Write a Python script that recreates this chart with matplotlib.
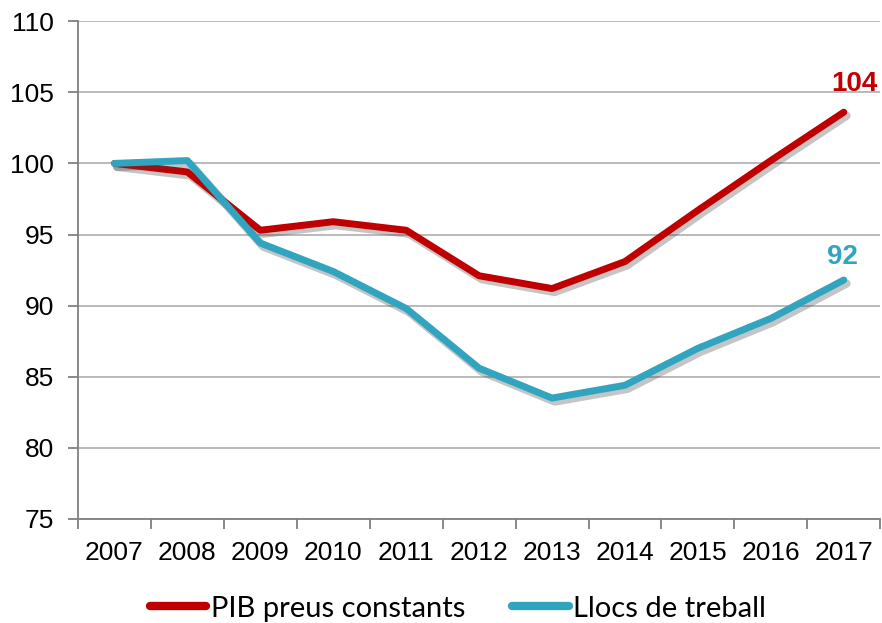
import numpy as np
import matplotlib
matplotlib.use('Agg')
import matplotlib.pyplot as plt
import matplotlib.patheffects as pe

years = ['2007', '2008', '2009', '2010', '2011', '2012', '2013', '2014', '2015', '2016', '2017']
pib = [100.0, 99.4, 95.3, 95.9, 95.3, 92.1, 91.2, 93.1, 96.7, 100.2, 103.6]
llocs = [100.0, 100.2, 94.4, 92.4, 89.8, 85.6, 83.5, 84.4, 87.0, 89.1, 91.8]
end_labels = ['104', '92']
series_names = ['PIB preus constants', 'Llocs de treball']

red = '#C00000'
teal = '#31A5C0'

plt.rcParams['font.family'] = ['Liberation Sans', 'DejaVu Sans']

fig = plt.figure(figsize=(8.82, 6.23), dpi=100)
ax = fig.add_axes([0.0884, 0.167, 0.9096, 0.799])

x = np.arange(len(years))
# soft drop shadow under each line, like the office chart
shadow = [pe.SimpleLineShadow(offset=(2, -2.5), shadow_color='#404040', alpha=0.3, linewidth=6),
          pe.Normal()]
l1, = ax.plot(x, pib, color=red, lw=5, solid_capstyle='round', solid_joinstyle='round',
              path_effects=shadow, zorder=3)
l2, = ax.plot(x, llocs, color=teal, lw=5, solid_capstyle='round', solid_joinstyle='round',
              path_effects=shadow, zorder=4)

ax.text(x[-1] + 0.15, pib[-1] + 1.1, end_labels[0], color=red, fontsize=20,
        fontweight='bold', ha='center', va='bottom', family='Liberation Sans')
ax.text(x[-1] - 0.02, llocs[-1] + 0.7, end_labels[1], color=teal, fontsize=20,
        fontweight='bold', ha='center', va='bottom', family='Liberation Sans')

ax.set_xlim(-0.5, len(years) - 0.5)
ax.set_ylim(75, 110)
ax.set_yticks(np.arange(75, 111, 5))
ax.yaxis.grid(True, color='#B4B4B4', lw=1.3)
ax.set_axisbelow(True)

ax.set_xticks(x)
ax.set_xticklabels(years, family='Liberation Sans')
ax.set_yticklabels([str(v) for v in range(75, 111, 5)], family='Liberation Sans')
ax.set_xticks(np.arange(-0.5, len(years), 1), minor=True)
ax.tick_params(axis='x', which='major', length=0, labelsize=19, pad=16)
ax.tick_params(axis='x', which='minor', length=7, width=1.3, color='#808080', direction='out')
ax.tick_params(axis='y', length=7, width=1.3, color='#808080', labelsize=19, pad=10)

for s in ['top', 'right']:
    ax.spines[s].set_visible(False)
for s in ['left', 'bottom']:
    ax.spines[s].set_color('#808080')
    ax.spines[s].set_linewidth(1.3)

fig.legend([l1, l2], series_names, loc='lower center', bbox_to_anchor=(0.519, -0.04),
           ncol=2, frameon=False, handlelength=1.95, handletextpad=0.15,
           columnspacing=1.6, prop={'family': 'Lato', 'size': 21})
for h in fig.legends[0].legend_handles:
    h.set_path_effects([])
    h.set_linewidth(6)

fig.savefig('out.png', dpi=100)
